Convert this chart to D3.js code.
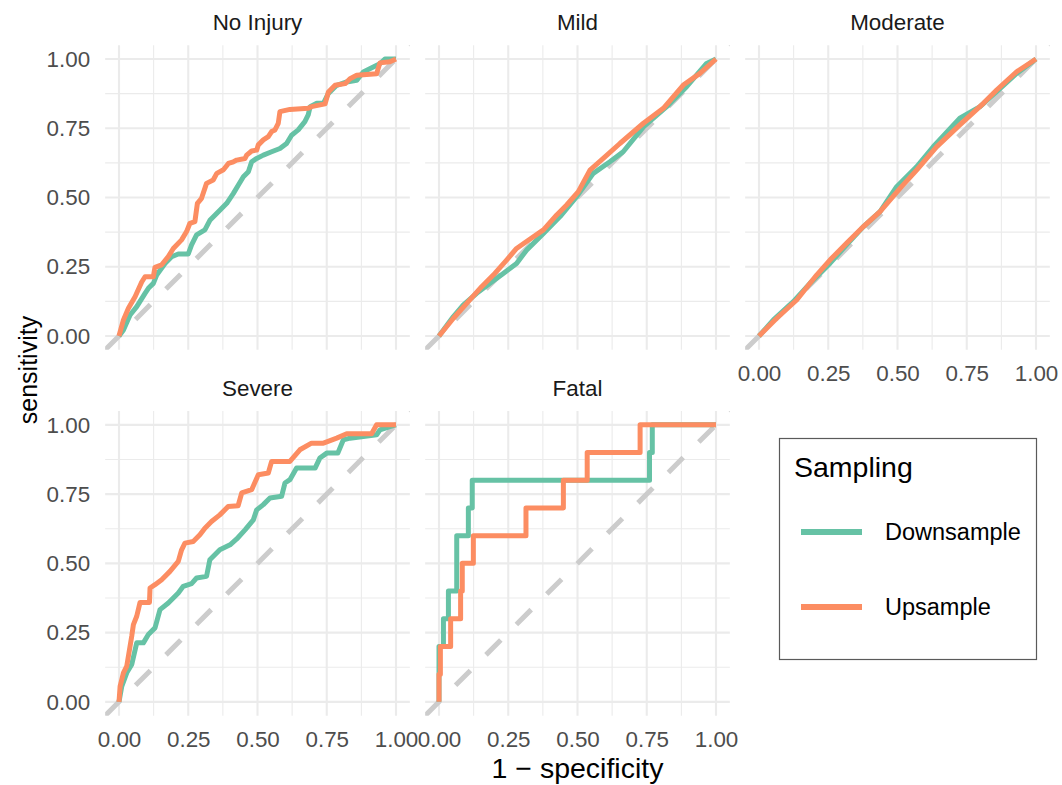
<!DOCTYPE html>
<html>
<head>
<meta charset="utf-8">
<script src="https://cdn.jsdelivr.net/npm/d3@7"></script>
<style>
  body { margin: 0; background: #fff; }
  text { font-family: "Liberation Sans", Arial, sans-serif; }
</style>
</head>
<body>
<div class="chart"></div>
<script>
// Set up sizes
var svgWidth = 1062;
var svgHeight = 785;

// facet names, in facet_wrap order
var panels = ["No Injury", "Mild", "Moderate", "Severe", "Fatal"];
var samplings = ["Downsample", "Upsample"];
var colors = ["#66C2A5", "#FC8D62"];

// axis breaks
var majorBreaks = [0, 0.25, 0.5, 0.75, 1];
var minorBreaks = [0.125, 0.375, 0.625, 0.875];

// ROC points [1 - specificity, sensitivity]
var noInjuryDown = [[0,0],[0.016,0.022],[0.04,0.076],[0.064,0.106],[0.094,0.154],[0.106,0.172],[0.124,0.19],[0.136,0.22],[0.166,0.262],[0.19,0.286],[0.214,0.296],[0.25,0.296],[0.262,0.329],[0.28,0.365],[0.31,0.383],[0.329,0.419],[0.365,0.455],[0.389,0.479],[0.413,0.515],[0.431,0.545],[0.449,0.575],[0.467,0.593],[0.479,0.629],[0.497,0.641],[0.521,0.653],[0.551,0.665],[0.581,0.677],[0.605,0.695],[0.623,0.725],[0.647,0.744],[0.671,0.774],[0.683,0.798],[0.69,0.828],[0.714,0.84],[0.738,0.84],[0.756,0.876],[0.786,0.905],[0.822,0.917],[0.858,0.923],[0.882,0.953],[0.918,0.971],[0.942,0.983],[0.96,1],[1,1]];
var noInjuryUp = [[0,0],[0.016,0.058],[0.034,0.1],[0.058,0.142],[0.082,0.195],[0.094,0.214],[0.124,0.214],[0.13,0.248],[0.154,0.257],[0.178,0.287],[0.196,0.316],[0.226,0.347],[0.244,0.377],[0.256,0.407],[0.274,0.413],[0.283,0.479],[0.298,0.497],[0.316,0.551],[0.34,0.563],[0.353,0.587],[0.377,0.6],[0.395,0.623],[0.413,0.629],[0.425,0.635],[0.455,0.641],[0.461,0.653],[0.479,0.668],[0.497,0.671],[0.503,0.69],[0.521,0.708],[0.539,0.72],[0.551,0.738],[0.563,0.744],[0.575,0.768],[0.581,0.81],[0.617,0.818],[0.683,0.822],[0.695,0.828],[0.744,0.838],[0.756,0.881],[0.78,0.905],[0.816,0.911],[0.834,0.929],[0.858,0.941],[0.93,0.947],[0.942,0.986],[0.978,0.99],[1,1]];

var mildDown = [[0,0],[0.052,0.07],[0.088,0.112],[0.136,0.154],[0.184,0.19],[0.232,0.226],[0.28,0.262],[0.316,0.31],[0.377,0.37],[0.437,0.431],[0.497,0.503],[0.557,0.587],[0.617,0.629],[0.665,0.665],[0.738,0.755],[0.822,0.828],[0.894,0.9],[0.966,0.984],[1,1]];
var mildUp = [[0,0],[0.052,0.064],[0.1,0.118],[0.154,0.178],[0.196,0.22],[0.244,0.274],[0.28,0.316],[0.316,0.341],[0.377,0.383],[0.425,0.437],[0.461,0.473],[0.503,0.521],[0.545,0.599],[0.593,0.641],[0.653,0.695],[0.738,0.768],[0.81,0.822],[0.882,0.906],[0.942,0.948],[1,1]];

var moderateDown = [[0,0],[0.052,0.058],[0.124,0.124],[0.184,0.19],[0.256,0.262],[0.316,0.329],[0.377,0.395],[0.437,0.449],[0.497,0.539],[0.569,0.611],[0.629,0.683],[0.725,0.786],[0.798,0.828],[0.858,0.882],[0.93,0.948],[1,1]];
var moderateUp = [[0,0],[0.064,0.064],[0.136,0.13],[0.208,0.22],[0.256,0.274],[0.316,0.335],[0.377,0.395],[0.437,0.449],[0.509,0.533],[0.569,0.599],[0.641,0.683],[0.725,0.762],[0.81,0.84],[0.858,0.888],[0.93,0.954],[1,1]];

var severeDown = [[0,0],[0.01,0.056],[0.028,0.105],[0.046,0.135],[0.064,0.213],[0.088,0.213],[0.106,0.243],[0.13,0.267],[0.148,0.333],[0.178,0.357],[0.214,0.393],[0.232,0.417],[0.262,0.427],[0.28,0.447],[0.316,0.453],[0.328,0.513],[0.364,0.549],[0.401,0.567],[0.425,0.588],[0.455,0.621],[0.485,0.657],[0.497,0.693],[0.521,0.712],[0.545,0.736],[0.587,0.742],[0.599,0.79],[0.617,0.802],[0.641,0.844],[0.708,0.844],[0.725,0.88],[0.75,0.898],[0.79,0.898],[0.81,0.946],[0.834,0.952],[0.93,0.964],[0.942,0.982],[0.978,0.994],[1,1]];
var severeUp = [[0,0],[0.004,0.056],[0.016,0.105],[0.028,0.129],[0.046,0.237],[0.052,0.279],[0.064,0.309],[0.076,0.359],[0.11,0.359],[0.112,0.411],[0.13,0.423],[0.154,0.441],[0.184,0.471],[0.214,0.507],[0.226,0.549],[0.238,0.573],[0.268,0.579],[0.292,0.603],[0.31,0.627],[0.334,0.651],[0.364,0.675],[0.394,0.705],[0.43,0.708],[0.443,0.754],[0.479,0.766],[0.503,0.82],[0.539,0.826],[0.551,0.868],[0.617,0.868],[0.653,0.91],[0.695,0.934],[0.738,0.934],[0.786,0.952],[0.822,0.968],[0.912,0.968],[0.93,1],[1,1]];

var fatalDown = [[0,0],[0,0.2],[0.016,0.2],[0.016,0.3],[0.034,0.3],[0.034,0.4],[0.064,0.4],[0.064,0.6],[0.106,0.6],[0.106,0.7],[0.12,0.7],[0.12,0.8],[0.76,0.8],[0.76,0.9],[0.77,0.9],[0.77,1],[1,1]];
var fatalUp = [[0,0],[0,0.1],[0.005,0.1],[0.005,0.2],[0.042,0.2],[0.042,0.3],[0.078,0.3],[0.078,0.4],[0.084,0.4],[0.084,0.5],[0.124,0.5],[0.124,0.6],[0.314,0.6],[0.314,0.7],[0.449,0.7],[0.449,0.8],[0.535,0.8],[0.535,0.9],[0.726,0.9],[0.726,1],[1,1]];

var curves = [
  [noInjuryDown, noInjuryUp],
  [mildDown, mildUp],
  [moderateDown, moderateUp],
  [severeDown, severeUp],
  [fatalDown, fatalUp]
];

// panel layout
var panelSize = 304.7;
var colLeft = [105.15, 425.15, 745.15];
var rowTop = [45.15, 411];

var fmt = d3.format(".2f");

var svg = d3.select(".chart")
  .append("svg")
  .attr("width", svgWidth)
  .attr("height", svgHeight);

panels.forEach(function(name, i) {
  var col = i % 3;
  var row = Math.floor(i / 3);
  var left = colLeft[col];
  var top = rowTop[row];

  var x = d3.scaleLinear().domain([-0.05, 1.05]).range([left, left + panelSize]);
  var y = d3.scaleLinear().domain([-0.05, 1.05]).range([top + panelSize, top]);

  var g = svg.append("g");

  svg.append("clipPath")
    .attr("id", "clip" + i)
    .append("rect")
    .attr("x", left)
    .attr("y", top)
    .attr("width", panelSize)
    .attr("height", panelSize);

  // grid
  var grid = g.append("g");
  [[minorBreaks, 1.1], [majorBreaks, 2.1]].forEach(function(b) {
    grid.selectAll(null).data(b[0]).enter().append("line")
      .attr("x1", d => x(d)).attr("x2", d => x(d))
      .attr("y1", top).attr("y2", top + panelSize)
      .attr("stroke", "#EBEBEB").attr("stroke-width", b[1]);
    grid.selectAll(null).data(b[0]).enter().append("line")
      .attr("y1", d => y(d)).attr("y2", d => y(d))
      .attr("x1", left).attr("x2", left + panelSize)
      .attr("stroke", "#EBEBEB").attr("stroke-width", b[1]);
  });

  var plot = g.append("g").attr("clip-path", "url(#clip" + i + ")");

  // reference diagonal
  plot.append("line")
    .attr("x1", x(-0.05)).attr("y1", y(-0.05))
    .attr("x2", x(1.05)).attr("y2", y(1.05))
    .attr("stroke", "#CCCCCC")
    .attr("stroke-width", 5)
    .attr("stroke-dasharray", "21,22");

  var line = d3.line()
    .x(d => x(d[0]))
    .y(d => y(d[1]));

  curves[i].forEach(function(pts, k) {
    plot.append("path")
      .datum(pts)
      .attr("d", line)
      .attr("fill", "none")
      .attr("stroke", colors[k])
      .attr("stroke-width", 5)
      .attr("stroke-linejoin", "round");
  });

  // strip label
  g.append("text")
    .attr("x", left + panelSize / 2)
    .attr("y", top - 15)
    .attr("text-anchor", "middle")
    .attr("fill", "#1A1A1A")
    .attr("font-size", "22.4px")
    .text(name);

  // y axis labels on first column
  if (col === 0) {
    var leftAxis = d3.axisLeft(y).tickValues(majorBreaks).tickFormat(fmt).tickSize(0).tickPadding(15);
    var ya = g.append("g").attr("transform", `translate(${left}, 0)`).call(leftAxis);
    ya.select(".domain").remove();
    ya.selectAll("text").attr("fill", "#4D4D4D").attr("font-size", "22.4px")
      .attr("font-family", "Liberation Sans, Arial, sans-serif");
  }

  // x axis labels where there is no panel below
  if (row === 1 || i === 2) {
    var bottomAxis = d3.axisBottom(x).tickValues(majorBreaks).tickFormat(fmt).tickSize(0).tickPadding(15);
    var xa = g.append("g").attr("transform", `translate(0, ${top + panelSize})`).call(bottomAxis);
    xa.select(".domain").remove();
    xa.selectAll("text").attr("fill", "#4D4D4D").attr("font-size", "22.4px")
      .attr("font-family", "Liberation Sans, Arial, sans-serif");
  }
});

// axis titles
svg.append("text")
  .attr("x", 577.5)
  .attr("y", 778)
  .attr("text-anchor", "middle")
  .attr("font-size", "28.5px")
  .text("1 \u2212 specificity");

svg.append("text")
  .attr("transform", "translate(37, 370) rotate(-90)")
  .attr("text-anchor", "middle")
  .attr("font-size", "25px")
  .text("sensitivity");

// legend
var legend = svg.append("g");
legend.append("rect")
  .attr("x", 779.5).attr("y", 438.5)
  .attr("width", 257).attr("height", 221)
  .attr("fill", "#fff")
  .attr("stroke", "#5A5A5A")
  .attr("stroke-width", 1.2);

legend.append("text")
  .attr("x", 794)
  .attr("y", 477)
  .attr("font-size", "28.5px")
  .text("Sampling");

var keyY = [532, 607];
samplings.forEach(function(s, k) {
  legend.append("line")
    .attr("x1", 801).attr("x2", 862)
    .attr("y1", keyY[k]).attr("y2", keyY[k])
    .attr("stroke", colors[k])
    .attr("stroke-width", 6);
  legend.append("text")
    .attr("x", 885)
    .attr("y", keyY[k])
    .attr("dy", "0.36em")
    .attr("font-size", "23.5px")
    .text(s);
});
</script>
</body>
</html>
